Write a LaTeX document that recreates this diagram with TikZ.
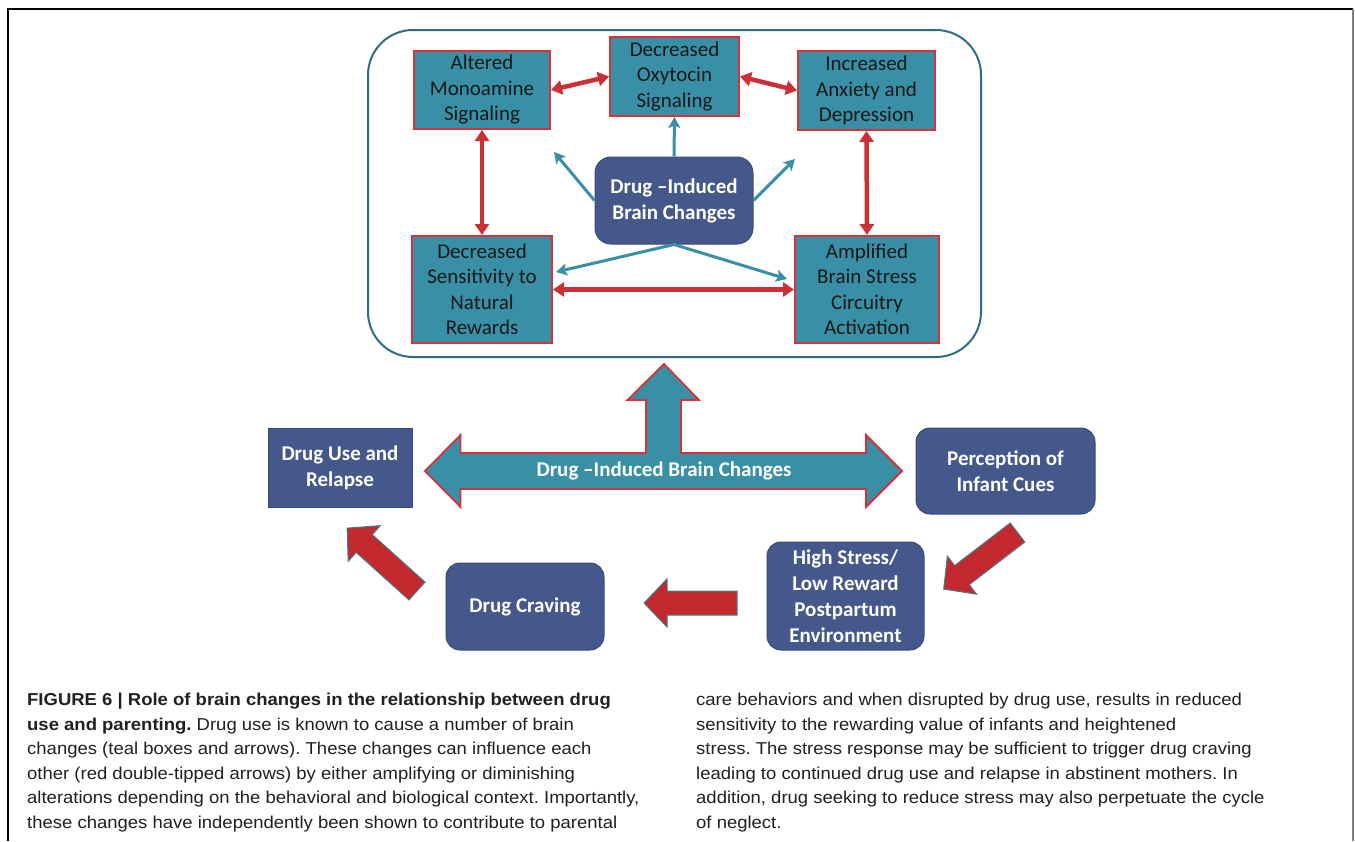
\documentclass[tikz,border=0pt]{standalone}
\usepackage{fontspec}
\setmainfont{Carlito}
\newfontfamily\capfont[FakeStretch=1.075]{Liberation Sans}
\usetikzlibrary{arrows.meta}
\definecolor{tealfill}{HTML}{398FA6}
\definecolor{tealdark}{HTML}{2F6E80}
\definecolor{boxred}{HTML}{D73237}
\definecolor{navy}{HTML}{44588C}
\definecolor{arrowred}{HTML}{C3282E}
\definecolor{arrowedge}{HTML}{4A7B85}
\definecolor{captext}{HTML}{231F20}
\newcommand\RedBlockArrow[4]{%
  \begin{scope}[shift={(#1,#2)},rotate=#3]
    \draw[redblock] (0,12) -- (#4-23,12) -- (#4-23,24) -- (#4,0) -- (#4-23,-24) -- (#4-23,-12) -- (0,-12) -- cycle;
  \end{scope}}
\begin{document}
\begin{tikzpicture}[x=1pt,y=-1pt,
  tealbox/.style={draw=boxred, line width=2pt, fill=tealfill, inner sep=0pt, align=center, text=black!90, font=\fontsize{21}{25.5}\selectfont},
  navybox/.style={fill=navy, draw=navy!85!black, line width=1pt, inner sep=0pt, align=center, text=white, font=\bfseries\fontsize{21}{26}\selectfont},
  redlink/.style={draw=boxred!95!black, line width=4.5pt, {Triangle[length=11pt,width=14pt]}-{Triangle[length=11pt,width=14pt]}},
  teallink/.style={draw=tealfill, line width=3pt, -{Stealth[length=11pt,width=12pt,inset=2.5pt]}},
  redblock/.style={fill=arrowred, draw=arrowedge, line width=1pt, line join=miter},
  bigarrow/.style={fill=tealfill, draw=boxred, line width=1.8pt, line join=miter},
  capline/.style={anchor=base west, inner sep=0pt, text=captext, font=\capfont\fontsize{17.2}{20}\selectfont\frenchspacing},
]
\useasboundingbox (0,0) rectangle (1355,841);
\fill[white] (0,0) rectangle (1355,841);
% frame
\draw[black, line width=1.5pt] (8,841) -- (8,9) -- (1353,9);
\draw[gray, line width=1.5pt] (1353,9) -- (1353,841);

% outer rounded box
\node[draw=tealdark, line width=2pt, rounded corners=45pt, minimum width=613pt, minimum height=327pt, inner sep=0pt] (outer) at (674.5,193.5) {};

% teal boxes
\node[tealbox, minimum width=136pt, minimum height=78pt] (alt) at (482,90) {Altered\\Monoamine\\Signaling};
\node[tealbox, minimum width=129pt, minimum height=79pt] (oxy) at (674.5,76.5) {Decreased\\Oxytocin\\Signaling};
\node[tealbox, minimum width=137pt, minimum height=79pt] (anx) at (866.5,90.5) {Increased\\Anxiety and\\Depression};
\node[tealbox, minimum width=140pt, minimum height=107pt] (dec) at (482,289.5) {Decreased\\Sensitivity to\\Natural\\Rewards};
\node[tealbox, minimum width=144pt, minimum height=107pt] (amp) at (867,289.5) {Amplified\\Brain Stress\\Circuitry\\Activation};
\node[navybox, rounded corners=16pt, minimum width=158pt, minimum height=87pt] (ctr) at (674,200.5) {Drug –Induced\\Brain Changes};

% red double arrows
\draw[redlink] (alt.east) -- (oxy.west);
\draw[redlink] (oxy.east) -- (anx.west);
\draw[redlink] (alt.south) -- (dec.north);
\draw[redlink] (anx.south) -- (amp.north);
\draw[redlink] (dec.east) -- (amp.west);

% teal arrows
\coordinate (ul) at (554,152);
\coordinate (ur) at (795,159);
\coordinate (ll) at (556,272);
\coordinate (lr) at (787,279);
\draw[teallink] (ctr.north) -- (oxy.south);
\draw[teallink] (ctr.west) -- (ul);
\draw[teallink] (ctr.east) -- (ur);
\draw[teallink, line cap=round] (ctr.south) -- (ll);
\draw[teallink, line cap=round] (ctr.south) -- (lr);

% big T arrow
\draw[bigarrow] (425,471) -- (460.5,435) -- (460.5,453) -- (646,453) -- (646,400) -- (627.5,400) -- (664,364)
  -- (699,400) -- (681,400) -- (681,453) -- (866,453) -- (866,435) -- (902,471) -- (866,507) -- (866,489)
  -- (460.5,489) -- (460.5,507) -- cycle;
\node[text=white, font=\bfseries\fontsize{21}{26}\selectfont, inner sep=0pt] (biglabel) at (664,471) {Drug –Induced Brain Changes};

% lower boxes
\node[navybox, minimum width=144pt, minimum height=79pt] (use) at (340,467.5) {Drug Use and\\Relapse};
\node[navybox, rounded corners=14pt, minimum width=179pt, minimum height=86pt] (per) at (1005.5,471) {Perception of\\Infant Cues};
\node[navybox, rounded corners=14pt, minimum width=157pt, minimum height=108pt] (hs) at (845.5,596) {High Stress/\\Low Reward\\Postpartum\\Environment};
\node[navybox, rounded corners=14pt, minimum width=158pt, minimum height=87pt] (crav) at (525,606.5) {Drug Craving};

% red block arrows
\RedBlockArrow{1017.5}{532.5}{217.5}{93}
\RedBlockArrow{737}{603}{180}{93}
\RedBlockArrow{417}{591}{138}{94}

% caption
\node[capline] (c1) at (27,705.5) {\bfseries FIGURE 6 | Role of brain changes in the relationship between drug};
\node[capline] (c2) at (27,730) {\textbf{use and parenting.} Drug use is known to cause a number of brain};
\node[capline] (c3) at (27,754.5) {changes (teal boxes and arrows). These changes can influence each};
\node[capline] (c4) at (27,779) {other (red double-tipped arrows) by either amplifying or diminishing};
\node[capline] (c5) at (27,803.5) {alterations depending on the behavioral and biological context. Importantly,};
\node[capline] (c6) at (27,828) {these changes have independently been shown to contribute to parental};
\node[capline] (d1) at (696,705.5) {care behaviors and when disrupted by drug use, results in reduced};
\node[capline] (d2) at (696,730) {sensitivity to the rewarding value of infants and heightened};
\node[capline] (d3) at (696,754.5) {stress. The stress response may be sufficient to trigger drug craving};
\node[capline] (d4) at (696,779) {leading to continued drug use and relapse in abstinent mothers. In};
\node[capline] (d5) at (696,803.5) {addition, drug seeking to reduce stress may also perpetuate the cycle};
\node[capline] (d6) at (696,828) {of neglect.};
\end{tikzpicture}
\end{document}
